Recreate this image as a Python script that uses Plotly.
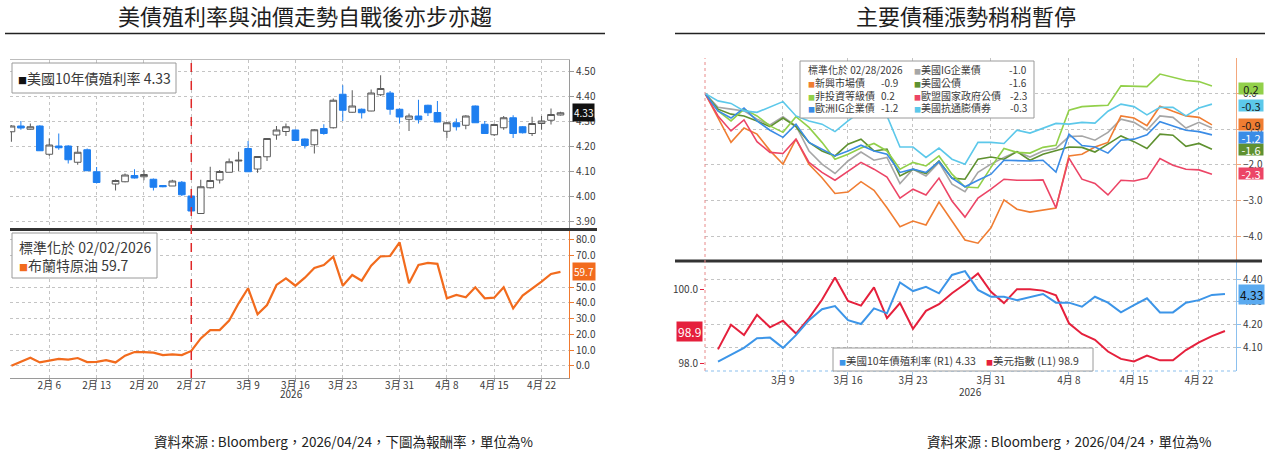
import pandas as pd
import plotly.graph_objects as go

W, H = 1273, 454

# ---- dates (weekday axes) ----
left_dates = [d.strftime("%Y-%m-%d") for d in pd.bdate_range("2026-02-02", "2026-04-24")
              if d.strftime("%m-%d") != "04-03"]
right_dates = [d.strftime("%Y-%m-%d") for d in pd.bdate_range("2026-02-27", "2026-04-24")]

left_ticks = ["2026-02-06", "2026-02-13", "2026-02-20", "2026-02-27", "2026-03-09", "2026-03-16",
              "2026-03-23", "2026-03-31", "2026-04-08", "2026-04-15", "2026-04-22"]
left_ticktext = ["2月 6", "2月 13", "2月 20", "2月 27", "3月 9", "3月 16",
                 "3月 23", "3月 31", "4月 8", "4月 15", "4月 22"]
right_ticks = ["2026-03-09", "2026-03-16", "2026-03-23", "2026-03-31",
               "2026-04-08", "2026-04-15", "2026-04-22"]
right_ticktext = ["3月 9", "3月 16", "3月 23", "3月 31", "4月 8", "4月 15", "4月 22"]

# ---- US 10Y yield candles (Feb 16 closed) ----
us10y_open = [4.257, 4.28, 4.267, 4.28, 4.167, 4.20, 4.20, 4.135, 4.185, 4.097,
              None, 4.048, 4.057, 4.082, 4.077, 4.067, 4.042, 4.04, 4.055, 4.0,
              3.93, 4.033, 4.064, 4.095, 4.14, 4.19, 4.108, 4.157, 4.244, 4.258,
              4.264, 4.228, 4.205, 4.27, 4.273, 4.407, 4.335, 4.347, 4.34, 4.405,
              4.412, 4.347, 4.307, 4.32, 4.363, 4.334, 4.259, 4.293, 4.283, 4.36,
              4.287, 4.245, 4.273, 4.313, 4.277, 4.25, 4.29, 4.303, 4.324]
us10y_high = [4.283, 4.30, 4.29, 4.283, 4.23, 4.25, 4.203, 4.20, 4.19, 4.116,
              None, 4.066, 4.09, 4.107, 4.104, 4.07, 4.044, 4.065, 4.06, 4.0,
              4.065, 4.117, 4.104, 4.15, 4.177, 4.22, 4.16, 4.232, 4.28, 4.29,
              4.266, 4.23, 4.268, 4.287, 4.39, 4.443, 4.423, 4.35, 4.426, 4.483,
              4.42, 4.35, 4.33, 4.385, 4.365, 4.38, 4.296, 4.31, 4.323, 4.362,
              4.30, 4.29, 4.32, 4.323, 4.28, 4.317, 4.32, 4.35, 4.337]
us10y_low = [4.217, 4.265, 4.265, 4.18, 4.16, 4.185, 4.13, 4.125, 4.10, 4.05,
             None, 4.022, 4.055, 4.07, 4.063, 4.022, 4.035, 4.04, 4.0, 3.935,
             3.928, 4.03, 4.05, 4.095, 4.10, 4.097, 4.093, 4.14, 4.225, 4.24,
             4.22, 4.19, 4.17, 4.245, 4.27, 4.30, 4.333, 4.31, 4.339, 4.40,
             4.325, 4.29, 4.26, 4.29, 4.32, 4.295, 4.232, 4.262, 4.267, 4.293,
             4.25, 4.24, 4.265, 4.232, 4.25, 4.24, 4.265, 4.286, 4.322]
us10y_close = [4.28, 4.272, 4.277, 4.181, 4.204, 4.193, 4.145, 4.175, 4.101, 4.054,
               None, 4.062, 4.084, 4.072, 4.086, 4.035, 4.037, 4.06, 4.005, 3.94,
               4.037, 4.062, 4.098, 4.137, 4.143, 4.097, 4.158, 4.23, 4.264, 4.277,
               4.222, 4.202, 4.265, 4.25, 4.383, 4.343, 4.36, 4.333, 4.412, 4.43,
               4.347, 4.316, 4.32, 4.305, 4.333, 4.296, 4.293, 4.277, 4.32, 4.293,
               4.25, 4.286, 4.313, 4.25, 4.253, 4.29, 4.30, 4.326, 4.333]

# ---- Brent, normalised to 02/02/2026 (%) ----
brent = [0, 2.5, 5.1, 2.1, 3.0, 4.3, 3.9, 4.9, 2.3, 2.5,
         3.6, 2.1, 6.4, 8.7, 8.7, 8.3, 6.8, 7.2, 6.8, 9.4,
         17.4, 22.7, 22.7, 28.7, 39.7, 49.3, 32.7, 38.6, 51.4, 55.6,
         50.9, 56.0, 62.2, 64.1, 69.4, 50.9, 57.7, 54.1, 63.7, 69.6,
         69.8, 78.5, 52.4, 64.1, 65.4, 64.8, 42.9, 45.0, 43.5, 49.9,
         42.9, 43.3, 49.9, 36.5, 44.6, 48.8, 53.5, 58.4, 59.7]

# ---- bond indices, normalised to 02/28/2026 (%), Feb 27 .. Apr 23 ----
us_ig = [0, -0.39, -0.44, -0.49, -0.72, -0.88, -0.65, -0.91, -1.61, -1.98,
         -2.24, -1.89, -1.64, -1.87, -1.79, -2.52, -2.12, -2.31, -1.93, -2.54,
         -2.75, -2.21, -1.98, -1.79, -1.63, -1.78, -1.61, -1.54, -1.21, -1.19,
         -1.31, -1.09, -0.72, -0.81, -1.03, -0.63, -0.67, -0.97, -0.81, -0.97]
em_bond = [0, -0.70, -1.37, -0.97, -1.14, -1.60, -1.98, -1.28, -1.98, -2.36,
           -2.80, -2.76, -2.47, -2.71, -3.20, -3.73, -3.57, -3.68, -3.04, -3.57,
           -4.10, -4.19, -3.76, -2.98, -3.24, -3.32, -3.27, -3.21, -1.75, -1.70,
           -1.50, -1.37, -0.63, -0.69, -0.90, -0.36, -0.50, -0.63, -0.67, -0.88]
us_tsy = [0, -0.44, -0.58, -0.63, -0.77, -0.93, -0.69, -0.93, -1.37, -1.61,
          -1.75, -1.42, -1.28, -1.61, -1.56, -2.31, -2.12, -2.24, -1.89, -2.37,
          -2.40, -1.84, -1.78, -1.84, -1.63, -1.87, -1.70, -1.61, -1.50, -1.51,
          -1.64, -1.42, -1.19, -1.35, -1.54, -1.14, -1.17, -1.48, -1.40, -1.56]
high_yield = [0, -0.49, -0.77, -0.44, -0.63, -0.91, -1.09, -0.65, -0.95, -1.37,
              -1.84, -1.70, -1.53, -1.40, -1.61, -2.12, -1.93, -2.03, -1.75, -2.26,
              -2.62, -2.64, -2.07, -1.54, -1.65, -1.67, -1.51, -1.45, -0.47, -0.37,
              -0.35, -0.33, 0.21, 0.21, 0.19, 0.54, 0.45, 0.36, 0.33, 0.21]
eu_gov = [0, -0.63, -1.05, -0.74, -1.35, -1.65, -1.68, -1.28, -1.93, -2.21,
          -2.43, -2.17, -1.93, -2.12, -2.34, -2.93, -2.68, -2.84, -2.37, -3.01,
          -3.46, -2.93, -2.68, -2.40, -2.43, -2.43, -2.42, -3.20, -1.81, -2.40,
          -2.52, -2.84, -2.43, -2.45, -2.37, -1.82, -2.01, -2.12, -2.14, -2.26]
eu_ig = [0, -0.49, -0.69, -0.41, -0.77, -1.03, -1.23, -0.86, -1.37, -1.56,
         -1.75, -1.61, -1.45, -1.61, -1.70, -2.21, -2.12, -2.21, -1.91, -2.37,
         -2.61, -2.43, -2.26, -1.87, -1.89, -1.89, -1.87, -2.20, -1.14, -1.46,
         -1.50, -1.67, -1.31, -1.28, -1.16, -0.79, -0.91, -1.03, -1.07, -1.16]
us_tips = [0, -0.21, -0.28, -0.49, -0.53, -0.39, -0.23, -0.63, -0.77, -0.86,
           -1.07, -0.77, -0.50, -0.45, -0.63, -1.50, -1.50, -1.79, -1.53, -1.84,
           -1.98, -1.37, -1.37, -1.40, -1.03, -1.11, -0.97, -0.84, -0.86, -0.81,
           -0.83, -0.50, -0.30, -0.37, -0.60, -0.39, -0.39, -0.63, -0.41, -0.30]

# ---- lower right, Mar 2 .. Apr 24 ----
us10y_r1 = [4.036, 4.065, 4.097, 4.139, 4.142, 4.097, 4.153, 4.219, 4.267, 4.281,
            4.219, 4.202, 4.271, 4.249, 4.385, 4.347, 4.366, 4.337, 4.418, 4.435,
            4.352, 4.322, 4.322, 4.307, 4.322, 4.334, 4.296, 4.296, 4.278, 4.322,
            4.296, 4.253, 4.285, 4.315, 4.253, 4.253, 4.296, 4.307, 4.33, 4.334]
dxy_l1 = [98.38, 99.05, 98.77, 99.32, 98.98, 99.16, 98.81, 99.23, 99.73, 100.34,
          99.70, 99.57, 100.07, 99.23, 99.64, 98.94, 99.43, 99.61, 99.91, 100.16,
          100.45, 99.95, 99.64, 100.02, 100.02, 99.98, 99.85, 99.09, 98.80, 98.64,
          98.32, 98.12, 98.05, 98.21, 98.08, 98.08, 98.36, 98.57, 98.74, 98.88]

bond_series = [
    ("美國IG企業債", us_ig, "#a6a6a6"),
    ("新興市場債", em_bond, "#f07d32"),
    ("美國公債", us_tsy, "#5f9130"),
    ("非投資等級債", high_yield, "#92d04a"),
    ("歐盟國家政府公債", eu_gov, "#ec4566"),
    ("歐洲IG企業債", eu_ig, "#3a8ce6"),
    ("美國抗通膨債券", us_tips, "#5cc8ea"),
]

FONT = "Noto Sans CJK TC, Noto Sans, sans-serif"
GRID = "#c4c4c4"
TXT = "#3a3a3a"


def px(x):
    return x / W


def py(y):
    return 1 - y / H


fig = go.Figure()

fig.add_trace(go.Candlestick(
    x=left_dates, open=us10y_open, high=us10y_high, low=us10y_low, close=us10y_close,
    increasing=dict(line=dict(color="#5a5a5a", width=1), fillcolor="white"),
    decreasing=dict(line=dict(color="#1e7ff0", width=1), fillcolor="#1e7ff0"),
    whiskerwidth=0, showlegend=False, hoverinfo="skip", xaxis="x", yaxis="y"))

fig.add_trace(go.Scatter(x=left_dates, y=brent, mode="lines",
                         line=dict(color="#f26b1d", width=2.2),
                         showlegend=False, xaxis="x2", yaxis="y2"))

for name, vals, col in bond_series:
    fig.add_trace(go.Scatter(x=right_dates[:len(vals)], y=vals, mode="lines", name=name,
                             line=dict(color=col, width=1.6),
                             showlegend=False, xaxis="x3", yaxis="y3"))

fig.add_trace(go.Scatter(x=right_dates[1:], y=dxy_l1, mode="lines",
                         line=dict(color="#e5203c", width=2),
                         showlegend=False, xaxis="x4", yaxis="y4"))
fig.add_trace(go.Scatter(x=right_dates[1:], y=us10y_r1, mode="lines",
                         line=dict(color="#3c95e8", width=2),
                         showlegend=False, xaxis="x4", yaxis="y5"))

tick_font = dict(family=FONT, size=10, color=TXT)
xcommon = dict(type="category", categoryorder="array", showgrid=True, gridcolor=GRID,
               griddash="dot", zeroline=False, fixedrange=True, tickfont=tick_font)
ycommon = dict(showgrid=True, gridcolor=GRID, griddash="dot", zeroline=False,
               fixedrange=True, ticks="outside", ticklen=4, tickfont=tick_font)

fig.update_layout(
    width=W, height=H, margin=dict(l=0, r=0, t=0, b=0),
    paper_bgcolor="white", plot_bgcolor="white",
    showlegend=False, hovermode=False, boxgap=0.12, boxgroupgap=0.2,
    font=dict(family=FONT, color=TXT),
    xaxis=dict(xcommon, domain=[px(10), px(569)], anchor="y", categoryarray=left_dates,
               range=[-0.15, 58.9], tickvals=left_ticks, showticklabels=False,
               showline=True, mirror=True, linecolor="#bdbdbd",
               rangeslider=dict(visible=False)),
    yaxis=dict(ycommon, domain=[py(228), py(60)], anchor="x", side="right",
               range=[3.872, 4.544], tickvals=[3.9, 4.0, 4.1, 4.2, 4.3, 4.4, 4.5],
               tickformat=".2f", showline=True, linecolor="#9a9a9a", tickcolor="#9a9a9a"),
    xaxis2=dict(xcommon, domain=[px(10), px(569)], anchor="y2", categoryarray=left_dates,
                range=[-0.15, 58.9], tickvals=left_ticks, ticktext=left_ticktext,
                ticks="outside", ticklen=3, tickcolor="#9a9a9a", ticklabelstandoff=-5,
                showline=True, linecolor="#9a9a9a"),
    yaxis2=dict(ycommon, domain=[py(378), py(231)], anchor="x2", side="right",
                range=[-7.8, 85.7], tickvals=[0, 10, 20, 30, 40, 50, 70, 80],
                tickformat=".1f", showline=True, linecolor="#f07a30", tickcolor="#f07a30"),
    xaxis3=dict(xcommon, domain=[px(705), px(1236)], anchor="y3", categoryarray=right_dates,
                range=[0, 40.85], tickvals=right_ticks, showticklabels=False),
    yaxis3=dict(ycommon, domain=[py(260), py(58)], anchor="x3", side="right",
                range=[-4.66, 0.99], tickvals=[0, -1, -2, -3, -4], tickformat=".1f",
                showline=True, linecolor="#f3a77c", tickcolor="#f3a77c"),
    xaxis4=dict(xcommon, domain=[px(705), px(1236)], anchor="y4", categoryarray=right_dates,
                range=[0, 40.85], tickvals=right_ticks, ticktext=right_ticktext,
                ticks="outside", ticklen=3, tickcolor="#9ac6ee", ticklabelstandoff=-3),
    yaxis4=dict(ycommon, domain=[py(371), py(262)], anchor="x4", side="left",
                range=[97.79, 100.76], tickvals=[98, 100], tickformat=".1f",
                showgrid=False, tickcolor="#e5203c"),
    yaxis5=dict(ycommon, overlaying="y4", anchor="x4", side="right",
                range=[3.995, 4.475], tickvals=[4.1, 4.2, 4.3, 4.4], tickformat=".2f",
                showline=True, linecolor="#8cc0ee", tickcolor="#8cc0ee"),
)

shapes = [
    # title underlines
    dict(type="line", xref="paper", yref="paper", x0=px(5), x1=px(605), y0=py(33.5), y1=py(33.5),
         line=dict(color="#222", width=1.6)),
    dict(type="line", xref="paper", yref="paper", x0=px(675), x1=px(1265), y0=py(33.5), y1=py(33.5),
         line=dict(color="#222", width=1.6)),
    # panel separators
    dict(type="line", xref="paper", yref="paper", x0=px(10), x1=px(597), y0=py(229.5), y1=py(229.5),
         line=dict(color="#333", width=3), layer="above"),
    dict(type="line", xref="paper", yref="paper", x0=px(675), x1=px(1262), y0=py(261), y1=py(261),
         line=dict(color="#333", width=3), layer="above"),
    # war start marker
    dict(type="line", xref="x", yref="paper", x0="2026-02-27", x1="2026-02-27",
         y0=py(378), y1=py(60), line=dict(color="#e02828", width=1.5, dash="dash"), layer="above"),
    # right panel left edge and bottom edge (dotted)
    dict(type="line", xref="paper", yref="paper", x0=px(705), x1=px(705), y0=py(371), y1=py(58),
         line=dict(color="#e88a8a", width=1, dash="dot")),
    dict(type="line", xref="paper", yref="paper", x0=px(705), x1=px(1236), y0=py(371), y1=py(371),
         line=dict(color="#8cc0ee", width=1.2, dash="dot")),
]
legend_boxes = [(12, 63, 176, 93), (12, 233, 157, 278), (800, 61, 1034, 118), (833, 348, 1093, 371)]
for x0, y0, x1, y1 in legend_boxes:
    shapes.append(dict(type="rect", xref="paper", yref="paper", x0=px(x0), x1=px(x1),
                       y0=py(y1), y1=py(y0), fillcolor="white",
                       line=dict(color="#9a9a9a", width=1), layer="above"))
fig.update_layout(shapes=shapes)


def sq(color, size=8):
    return f"<span style='color:{color};font-size:{size}px'>■</span>"


ann = []


def note(x, y, text, size=11, color=TXT, xanchor="left", yanchor="middle", **kw):
    ann.append(dict(xref=kw.pop("xref", "paper"), yref=kw.pop("yref", "paper"),
                    x=x, y=y, text=text, showarrow=False, xanchor=xanchor, yanchor=yanchor,
                    font=dict(family=FONT, size=size, color=color), **kw))


# titles and sources
note(px(305), py(15), "美債殖利率與油價走勢自戰後亦步亦趨", size=22, color="#1e1e1e", xanchor="center")
note(px(966), py(15), "主要債種漲勢稍稍暫停", size=22, color="#1e1e1e", xanchor="center")
note(px(343), py(441), "資料來源 : Bloomberg，2026/04/24，下圖為報酬率，單位為%", size=13.5,
     color="#222", xanchor="center")
note(px(1069), py(441), "資料來源 : Bloomberg，2026/04/24，單位為%", size=13.5,
     color="#222", xanchor="center")

# year labels
note(px(291), py(393), "2026", size=10, xanchor="center")
note(px(970), py(391), "2026", size=10, xanchor="center")

# left legends
note(px(16), py(78), sq("#111", 9) + "美國10年債殖利率 " + f"{us10y_close[-1]:.2f}", size=14)
note(px(17), py(255.5), "標準化於 02/02/2026<br>" + sq("#f26b1d", 9) + "布蘭特原油 " + f"{brent[-1]:.1f}",
     size=14, align="left")

# right top legend
rows = [70, 83, 95.5, 108]
note(px(806), py(rows[0]), "標準化於 02/28/2026", size=10)
col1 = [bond_series[1], bond_series[3], bond_series[5]]
col2 = [bond_series[0], bond_series[2], bond_series[4], bond_series[6]]
for r, (name, vals, col) in zip(rows[1:], col1):
    note(px(806), py(r), sq(col, 7) + name, size=10)
    note(px(879), py(r), f"{vals[-1]:.1f}", size=10)
for r, (name, vals, col) in zip(rows, col2):
    note(px(912), py(r), sq(col, 7) + name, size=10)
    note(px(1029), py(r), f"{vals[-1]:.1f}", size=10, xanchor="right")

# right bottom legend
note(px(837), py(360), sq("#3c95e8", 7) + "美國10年債殖利率 (R1) " + f"{us10y_r1[-1]:.2f}", size=10.5)
note(px(984), py(360), sq("#e5203c", 7) + "美元指數 (L1) " + f"{dxy_l1[-1]:.1f}", size=10.5)

# end-value tags
note(px(572), us10y_close[-1], f"{us10y_close[-1]:.2f}", size=10, color="white",
     yref="y", bgcolor="#111111", borderpad=1)
note(px(572), brent[-1], f"{brent[-1]:.1f}", size=10, color="white",
     yref="y2", bgcolor="#f26b1d", borderpad=1)
tag_pos = {"非投資等級債": 0.15, "美國抗通膨債券": -0.33, "新興市場債": -0.88,
           "歐洲IG企業債": -1.22, "美國公債": -1.56, "歐盟國家政府公債": -2.24}
tag_txt = {"非投資等級債": "#1a1a1a", "美國抗通膨債券": "#1a1a1a", "新興市場債": "#1a1a1a",
           "歐洲IG企業債": "white", "美國公債": "white", "歐盟國家政府公債": "white"}
for name, vals, col in bond_series:
    if name in tag_pos:
        note(px(1238), tag_pos[name], f"{vals[-1]:.1f}", size=11, color=tag_txt[name],
             yref="y3", bgcolor=col, borderpad=0, width=24, height=11, align="center")
note(px(703), dxy_l1[-1], f"{dxy_l1[-1]:.1f}", size=12, color="white", xanchor="right",
     yref="y4", bgcolor="#e5203c", borderpad=1)
note(px(1238), us10y_r1[-1], f"{us10y_r1[-1]:.2f}", size=12, color="#111",
     yref="y5", bgcolor="#5aaaf0", borderpad=1)

fig.update_layout(annotations=ann)
fig.write_html("out.html", config={"displayModeBar": False},
               post_script="document.body.style.margin='0';")
